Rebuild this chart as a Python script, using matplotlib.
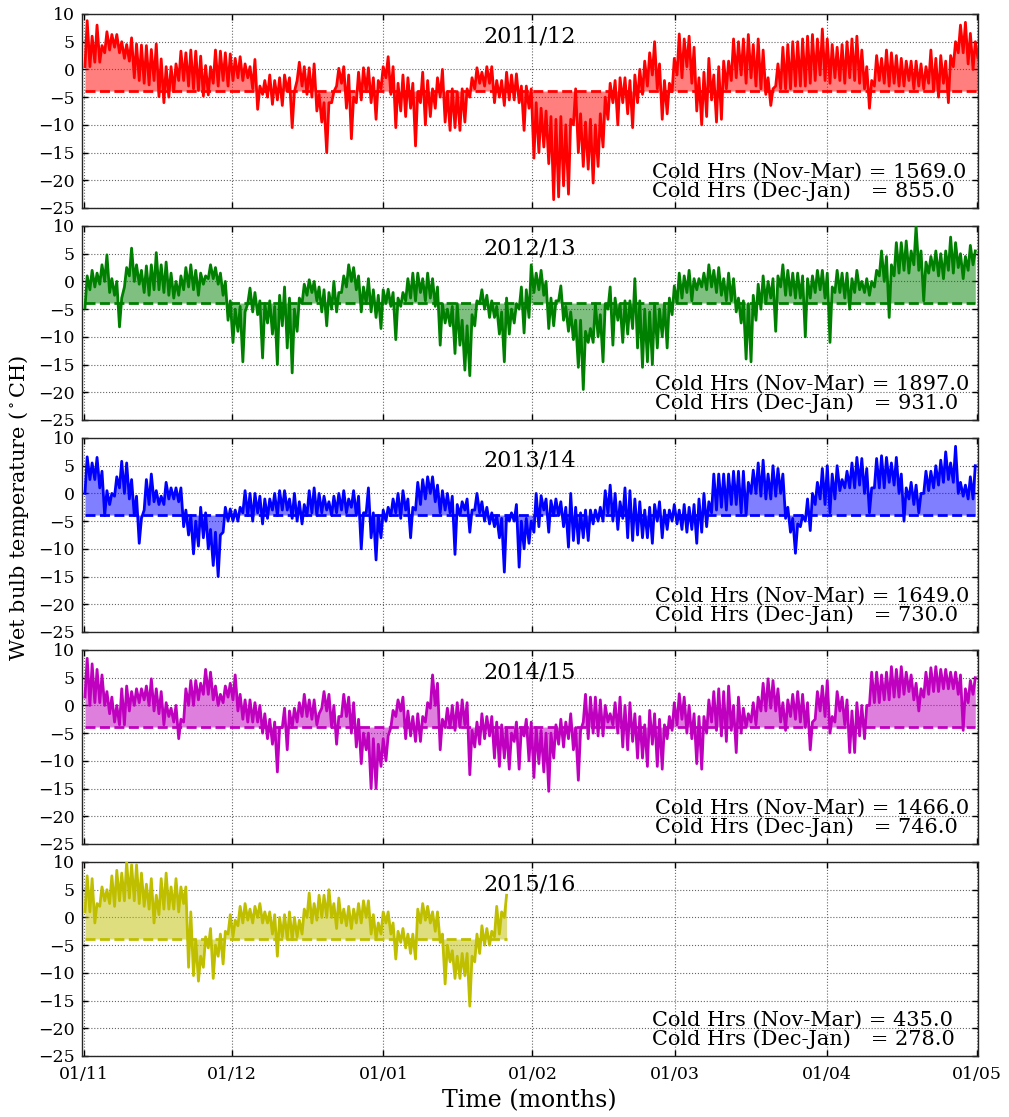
import matplotlib
matplotlib.use("Agg")
import matplotlib.pyplot as plt

plt.rcParams['font.family'] = ['DejaVu Serif']
plt.rcParams['mathtext.fontset'] = 'dejavuserif'

# ---------------- data (daily high / low wet bulb temperature) -------------
THRESH = -3.9
TICK_DAYS = [0, 30, 60.7, 90.9, 119.8, 150.5, 181]
TICK_LABELS = ['01/11', '01/12', '01/01', '01/02', '01/03', '01/04', '01/05']
TITLES = ['2011/12', '2012/13', '2013/14', '2014/15', '2015/16']
COLORS = ['r', 'g', 'b', 'm', 'y']
COLD_NOV_MAR = ['1569.0', '1897.0', '1649.0', '1466.0', '435.0']
COLD_DEC_JAN = ['855.0', '931.0', '730.0', '746.0', '278.0']

hi_2011 = [8.8, 6.0, 8.0, 4.3, 6.8, 6.3, 6.3, 5.0, 4.5, 5.7,
           4.6, 4.4, 4.3, 3.6, 4.6, 1.9, 0.5, 0.5, 1.0, 3.3,
           3.0, 3.5, 3.3, 2.4, 0.7, 0.5, 3.5, 3.3, 3.0, 2.8,
           2.0, 2.3, 1.0, 0.5, 1.8, -3.0, -2.0, -1.0, -2.0, -1.5,
           -1.0, -1.5, -4.0, 1.3, 0.5, 0.3, 1.0, -4.5, -6.0, -6.0,
           -4.0, 0.2, 0.5, -1.0, -5.0, -0.5, 0.3, 0.3, -1.5, -2.0,
           0.5, 2.3, 0.5, -2.5, -1.0, -1.5, -2.5, -4.0, -0.5, -2.0,
           -3.5, -1.5, 0.0, -4.0, -3.5, -4.0, -3.5, -3.5, -1.5, 0.3,
           -0.5, 0.5, 0.5, -2.0, -2.0, -0.5, -1.0, -0.8, -3.0, -3.0,
           -3.5, -6.0, -7.0, -7.5, -8.5, -9.0, -8.5, -10.0, -9.0, -3.5,
           -8.0, -9.5, -9.0, -10.0, -8.0, -5.0, -2.5, -2.0, -1.5, -1.5,
           -2.0, -1.0, 0.0, 1.5, 3.0, 5.0, 1.0, -2.0, -2.5, 2.0,
           6.4, 5.5, 6.0, 4.0, -1.5, -0.5, 2.0, -1.0, 0.5, 1.5,
           1.5, 5.5, 5.0, 5.5, 6.3, 4.5, 5.5, 3.5, -1.5, -3.5,
           1.0, 4.0, 4.5, 5.0, 5.0, 5.5, 6.0, 6.3, 5.5, 7.3,
           5.5, 4.5, 4.0, 4.5, 5.0, 5.5, 6.0, 3.5, 0.5, -2.0,
           2.5, 2.0, 3.5, 3.0, 2.5, 2.0, 1.5, 1.5, 1.5, 1.0,
           0.5, 3.5, 2.0, 2.5, 1.5, 2.5, 5.0, 8.0, 8.5, 6.5,
           5.0, 5.5]
lo_2011 = [0.5, 0.5, 1.3, 1.3, 3.0, 3.5, 4.0, 3.0, 2.0, 1.5,
           -1.5, -2.0, -2.5, -2.8, -2.0, -4.9, -6.0, -5.0, -4.0, -2.0,
           -2.0, -3.0, -3.5, -3.8, -4.8, -4.6, -2.5, -3.0, -2.0, -3.0,
           -2.0, -1.5, -2.0, -1.5, -3.5, -7.2, -4.5, -5.0, -6.3, -5.5,
           -6.5, -4.0, -10.5, -2.0, -3.0, -4.5, -5.0, -7.5, -9.5, -15.0,
           -6.0, -3.0, -2.5, -7.0, -12.5, -6.0, -5.5, -4.0, -6.0, -9.0,
           -3.5, -1.5, -4.5, -10.5, -7.5, -8.5, -7.0, -13.8, -6.0, -10.0,
           -8.5, -7.0, -5.0, -9.5, -11.0, -10.5, -11.0, -9.5, -5.0, -3.5,
           -2.5, -3.0, -2.5, -6.0, -5.0, -6.5, -5.5, -5.5, -6.0, -11.0,
           -7.0, -16.0, -15.0, -14.0, -17.0, -23.5, -23.0, -21.0, -22.5, -10.0,
           -15.0, -17.5, -18.0, -20.5, -17.5, -14.0, -9.0, -6.0, -10.0, -6.0,
           -8.0, -10.5, -6.0, -4.5, -3.0, -1.0, -3.5, -9.0, -8.0, -4.0,
           -1.0, -1.5, 0.5, -2.5, -7.5, -10.0, -8.5, -5.5, -9.5, -9.0,
           -3.5, -2.0, -1.5, -1.0, -2.5, -1.5, -3.0, -3.5, -4.5, -6.5,
           -3.0, -3.5, -3.5, -3.5, -3.0, -3.0, -3.0, -2.5, -2.0, -1.0,
           -2.0, -2.5, -1.5, -2.0, -2.5, -1.5, -2.0, -2.5, -3.5, -7.0,
           -3.0, -2.0, -2.5, -3.0, -2.5, -3.0, -3.0, -2.0, -3.5, -3.0,
           -3.5, -2.5, -4.0, -5.0, -2.5, -6.0, 0.5, 3.0, 3.0, 1.0,
           0.0, 2.0]

hi_2012 = [1.0, 2.0, 1.5, 3.0, 4.8, 0.5, 0.0, -3.0, 2.5, 6.0,
           3.0, 2.0, 2.8, 3.0, 5.2, 3.0, 3.5, 1.5, 0.0, 1.0,
           2.5, 3.0, 2.0, 1.5, 1.0, 3.0, 2.5, 1.5, 0.0, -3.5,
           -5.0, -4.5, -5.5, -1.2, -2.0, -3.5, -4.0, -3.5, -4.5, -2.5,
           -1.0, -3.0, -5.0, -3.0, -0.5, 0.3, 0.0, -1.0, -1.5, -2.0,
           0.0, -2.0, 1.0, 3.0, 2.5, 1.0, -1.0, 0.5, -1.5, -2.5,
           -1.5, -1.4, -2.0, -3.0, -2.0, 0.5, 1.5, 1.5, 0.5, 1.5,
           0.5, -1.0, -4.0, -5.0, -4.5, -4.0, -7.0, -8.0, -6.0, -3.5,
           -1.5, -2.5, -3.5, -4.5, -5.5, -3.0, -5.0, -4.0, -1.0, -1.5,
           3.0, 1.5, 2.0, 0.0, -3.0, -3.5, -0.8, -4.5, -5.5, -7.0,
           -7.0, -9.0, -8.5, -4.0, -6.0, -4.0, -1.0, -3.0, -4.0, -3.5,
           -3.5, 0.5, -3.5, -5.0, -5.5, -4.0, -5.0, -4.0, -3.0, -0.8,
           1.5, 1.0, 2.0, 0.5, 0.5, 1.5, 3.0, 2.0, 2.5, 0.5,
           1.5, 0.5, -3.0, -3.5, -4.0, -2.5, -0.5, 1.0, 0.0, 0.5,
           1.0, 3.0, 2.0, 1.5, 1.5, 1.0, 0.5, 1.0, 2.0, 2.0,
           1.5, -1.0, 2.0, 1.5, 1.5, 0.5, 2.0, 0.0, 0.5, 0.0,
           2.0, 5.5, 4.5, 3.0, 7.0, 7.0, 7.3, 5.5, 10.0, 5.5,
           3.5, 4.5, 5.5, 5.0, 5.5, 8.0, 7.0, 5.0, 4.5, 6.5,
           5.5]
lo_2012 = [-4.8, -1.5, -1.0, -0.5, 0.0, -2.0, -2.5, -8.2, -1.0, 1.0,
           0.0, -0.5, -2.0, -2.5, -1.5, -1.5, -2.0, -2.5, -3.0, -2.5,
           -1.5, -1.0, -1.5, -2.5, -0.5, 0.5, 0.5, -0.5, -2.5, -7.0,
           -11.0, -9.0, -14.5, -4.0, -5.5, -6.0, -13.8, -7.5, -9.5, -15.0,
           -8.0, -12.0, -16.5, -9.0, -4.0, -2.5, -2.0, -3.5, -5.5, -8.0,
           -5.0, -5.5, -2.0, -1.0, 0.0, -1.5, -5.5, -4.0, -5.5, -6.5,
           -8.5, -4.0, -4.5, -10.5, -4.5, -3.5, -3.0, -3.5, -2.0, -3.5,
           -3.0, -4.5, -11.5, -7.5, -8.0, -13.0, -11.5, -16.0, -17.0, -8.0,
           -4.0, -5.0, -6.5, -6.5, -9.5, -14.5, -9.5, -7.5, -5.0, -9.3,
           -6.5, -2.0, -1.5, -2.5, -8.5, -8.0, -3.5, -7.0, -9.0, -10.5,
           -15.5, -19.5, -11.0, -11.0, -10.0, -14.5, -5.0, -11.5, -7.0, -11.0,
           -9.5, -8.5, -12.0, -15.5, -14.5, -15.0, -12.0, -10.0, -12.0, -6.0,
           -4.0, -3.0, -2.0, -3.5, -1.5, -1.0, -1.5, -1.0, -2.0, -2.5,
           -3.5, -3.5, -5.5, -7.5, -14.0, -14.5, -7.0, -5.0, -4.0, -3.0,
           -9.0, -1.0, -2.5, -2.5, -3.0, -3.0, -10.0, -3.0, -2.0, -1.5,
           -3.0, -11.0, -2.0, -2.0, -3.0, -5.0, -2.0, -1.5, -2.0, -2.5,
           -1.0, 1.0, 0.0, -6.5, 1.0, 1.5, 2.0, 1.5, 3.0, 2.0,
           -3.5, 1.5, 2.0, 1.0, 0.5, 2.0, 1.5, 2.5, 0.5, 2.0,
           3.0]

hi_2013 = [6.6, 5.5, 6.5, 4.0, 0.5, 0.0, 3.0, 5.8, 5.5, 2.5,
           -0.5, -4.5, 2.5, 3.5, 0.5, -0.5, 2.0, 1.0, 1.0, 1.0,
           -3.0, -4.0, -5.0, -2.5, -3.5, -6.5, -7.0, -7.5, -2.5, -2.8,
           -3.0, -2.5, 0.5, 0.0, 0.0, -0.5, -1.0, -1.0, 0.0, 0.5,
           0.5, -1.0, 0.0, -1.5, -2.0, 0.5, 1.0, 0.0, -0.5, -1.5,
           -0.5, 0.0, 0.5, -1.0, 0.5, -0.5, -3.5, 1.0, -3.5, -4.0,
           -3.0, -2.5, -1.0, 0.0, 0.5, -1.0, -2.5, 2.0, 2.5, 3.0,
           3.0, 1.5, 0.5, 0.0, -0.5, -2.0, -1.5, -1.0, -3.0, 0.0,
           -1.5, -2.5, -3.5, -4.0, -4.5, -4.0, -3.5, -2.0, -5.0, -4.5,
           -5.0, 0.0, -0.4, -1.0, -1.3, -1.0, -1.5, -2.5, 0.0, -2.5,
           -3.5, -3.0, -3.0, -3.0, -2.5, 0.5, 1.5, 0.0, -1.5, 1.0,
           0.5, -1.0, -1.5, -3.0, -2.5, -2.0, -1.5, -3.0, -3.0, -2.0,
           -3.0, -2.0, -2.5, -2.0, -1.0, 0.0, -1.5, 3.5, 3.5, 3.5,
           3.5, 4.0, 4.0, 4.0, 2.0, 4.2, 5.5, 6.0, 3.5, 5.0,
           4.5, 3.5, -2.5, -4.5, -5.5, -4.0, -1.0, 0.0, 2.0, 4.5,
           5.0, 3.5, 5.0, 2.5, 4.0, 5.5, 6.5, 6.3, 4.5, 1.0,
           6.3, 6.8, 6.5, 5.5, 6.5, 3.5, 1.0, 2.0, 1.5, 0.0,
           4.0, 4.0, 5.0, 6.0, 7.5, 5.5, 8.5, 2.0, 1.5, 3.0,
           5.0]
lo_2013 = [0.0, 2.5, 2.5, 1.0, -4.0, -2.0, -0.5, 1.0, 0.0, -1.0,
           -4.0, -9.0, -3.0, -2.0, -1.5, -2.0, -2.0, -1.0, -1.0, -1.5,
           -6.0, -7.5, -10.9, -9.5, -8.0, -10.0, -13.0, -15.0, -7.0, -5.0,
           -5.0, -5.0, -3.5, -4.0, -5.0, -3.5, -5.5, -4.5, -3.0, -4.0,
           -3.0, -3.0, -4.5, -5.0, -5.5, -4.0, -3.5, -4.0, -3.5, -3.0,
           -4.0, -3.5, -3.0, -3.5, -2.5, -4.0, -10.0, -3.5, -8.0, -12.0,
           -8.0, -5.0, -4.0, -3.5, -4.5, -3.0, -8.0, -3.0, -2.0, -1.0,
           0.0, -1.5, -3.5, -3.0, -3.5, -11.0, -4.0, -3.0, -7.0, -3.0,
           -3.5, -5.0, -5.5, -6.0, -8.0, -14.2, -5.0, -5.0, -13.3, -10.0,
           -9.0, -7.0, -6.0, -3.0, -7.0, -4.0, -4.0, -6.0, -9.7, -8.5,
           -9.0, -8.0, -8.5, -5.5, -5.0, -5.0, -3.5, -5.0, -6.5, -4.5,
           -8.0, -8.5, -7.5, -8.0, -8.0, -9.0, -5.0, -8.0, -6.5, -5.0,
           -5.5, -6.5, -7.0, -6.5, -9.0, -7.0, -6.0, -3.5, -3.0, -2.5,
           -3.0, -2.0, -2.0, -3.5, -4.0, 0.0, 0.0, -0.5, -1.0, -1.0,
           -0.5, 0.0, -4.5, -7.0, -10.8, -6.0, -5.0, -6.7, -2.0, -1.0,
           -2.0, -3.5, -1.0, 0.5, 1.0, 1.0, 1.0, 1.5, 0.0, -3.5,
           1.0, 1.0, 1.0, 2.0, 1.5, 0.0, -5.0, -1.0, -2.0, -3.5,
           0.0, 0.5, 1.0, 1.5, 2.0, 2.5, 2.0, 0.0, -0.5, -1.0,
           -1.0]

hi_2014 = [8.5, 7.5, 6.5, 5.5, 2.5, 1.5, 0.0, 3.0, 3.5, 2.5,
           3.0, 3.0, 3.5, 4.8, 3.0, 2.5, 0.5, -0.5, 0.0, -2.5,
           3.0, 4.5, 4.5, 4.0, 6.5, 6.0, 3.5, 2.0, 3.5, 4.0,
           5.5, 2.0, 1.0, 1.0, 0.5, 0.0, -1.5, -2.5, -3.0, -4.0,
           -0.5, -1.0, -0.5, 0.5, 2.0, 1.0, 1.0, -1.5, 2.5, 2.0,
           0.0, -2.0, 2.0, 1.5, 0.5, -2.5, -5.0, -5.0, -6.0, -7.0,
           -6.0, -5.5, -0.9, 1.0, 1.5, -1.0, -2.0, -1.5, -2.0, 0.5,
           5.5, 4.0, -2.5, -0.5, 0.0, 0.5, 1.0, 0.5, -4.5, -3.0,
           -1.5, -2.0, -2.0, -3.0, -3.5, -4.0, -5.0, -3.0, -4.0, -2.5,
           -3.0, -4.0, -4.5, -5.0, -5.0, -3.5, -2.5, -3.0, -1.5, -4.0,
           -4.5, 2.0, 1.5, 1.5, 1.0, 0.0, -1.5, 0.5, 1.5, 0.0,
           0.5, -1.5, -2.0, -3.5, -0.9, -1.5, -2.5, -3.5, -2.0, 0.5,
           2.1, 1.5, 0.0, -1.5, -2.0, -2.0, 1.0, 2.5, 3.0, 2.5,
           3.5, 0.0, 1.5, -0.5, -1.5, 0.5, 1.5, 4.0, 4.8, 4.5,
           3.0, 0.5, 1.0, 2.0, 2.5, 2.0, 0.5, -3.0, 2.5, 3.5,
           4.5, -2.0, 2.5, 1.5, 1.0, -1.0, 0.5, 0.0, 0.0, 6.0,
           6.0, 5.5, 6.0, 7.0, 6.5, 7.0, 6.0, 5.5, 4.0, 3.0,
           6.0, 6.8, 7.0, 6.5, 6.5, 6.0, 6.0, 5.5, 3.0, 4.5,
           5.0]
lo_2014 = [1.5, 0.0, 0.5, 0.5, 0.0, -1.5, -3.0, -3.5, -3.5, -1.0,
           0.0, 0.5, 1.0, 0.0, -1.0, -1.5, -3.5, -2.0, -3.0, -6.0,
           -3.0, 0.0, 0.0, 1.0, 2.0, 2.0, 1.0, 0.0, 0.5, 1.5,
           1.0, -1.0, -2.5, -3.0, -3.0, -3.0, -5.0, -6.0, -7.0, -12.0,
           -4.0, -8.0, -4.0, -3.0, -2.0, -2.0, -2.5, -3.5, -0.5, -1.0,
           -4.0, -7.0, -2.0, -2.0, -5.0, -7.5, -10.5, -8.0, -15.0, -15.0,
           -11.0, -10.0, -4.0, -2.0, -1.0, -6.0, -5.5, -6.5, -6.5, -3.0,
           -0.5, 0.0, -8.0, -4.0, -4.0, -4.5, -4.0, -3.5, -12.5, -7.5,
           -7.0, -6.0, -5.5, -9.5, -11.0, -9.5, -11.5, -6.5, -11.5, -5.5,
           -10.0, -13.0, -10.5, -12.0, -15.5, -9.5, -7.0, -7.5, -6.0, -8.0,
           -13.5, -3.0, -6.0, -5.0, -5.5, -5.5, -3.0, -3.5, -5.0, -7.5,
           -8.0, -6.5, -9.5, -9.5, -11.0, -7.0, -11.0, -11.5, -6.0, -4.5,
           -3.5, -2.5, -5.0, -6.0, -10.5, -11.5, -5.0, -3.0, -4.5, -5.5,
           -6.5, -4.5, -8.5, -5.0, -4.0, -3.0, -3.5, -1.0, -1.0, -0.5,
           -1.0, -3.0, -4.5, -2.0, -2.5, -3.0, -4.0, -8.0, -2.5, -1.0,
           -2.0, -5.0, -3.0, -1.0, -3.5, -8.5, -8.5, -5.5, -6.0, 0.0,
           0.5, 0.5, 1.0, 1.0, 1.5, 1.5, 2.0, 2.5, 1.0, -1.0,
           1.5, 2.0, 2.5, 2.5, 3.0, 3.0, 3.0, 2.0, -4.5, 0.5,
           2.0]

hi_2015 = [7.5, 7.0, 2.5, 5.5, 5.0, 7.5, 8.5, 8.0, 10.0, 9.5,
           9.5, 8.0, 6.0, 7.0, 4.0, 7.0, 8.0, 5.5, 7.0, 5.5,
           5.5, 1.0, -4.0, -7.0, -3.5, -2.0, -5.0, -3.0, -2.5, 0.5,
           -0.5, 2.0, 2.5, 1.5, 2.0, 2.5, 1.0, 1.0, 0.5, 0.0,
           0.5, 1.0, 0.0, -0.5, 1.5, 4.4, 2.5, 4.0, 4.0, 5.0,
           2.5, 3.5, 1.5, 2.0, 1.5, 2.5, 3.0, 3.0, 0.5, -1.0,
           1.0, 1.0, -1.0, -2.5, -2.0, -3.0, -3.0, 1.5, 2.5, 2.0,
           1.0, 1.0, -3.0, -5.0, -6.0, -7.0, -6.5, -6.5, -7.0, -3.0,
           -1.5, -2.0, -2.5, 2.0, 1.0, 4.0]
lo_2015 = [1.0, 1.0, -1.0, 2.0, 3.0, 2.5, 2.0, 3.0, 3.0, 3.5,
           3.0, 2.5, 2.0, 1.5, -1.0, 0.5, 1.5, 1.5, 1.5, 1.0,
           2.5, -9.0, -10.5, -11.5, -9.0, -5.5, -11.0, -7.0, -8.4, -3.0,
           -3.5, -1.5, -1.0, -0.5, -1.0, 0.0, -1.0, -1.0, -3.0, -7.0,
           -3.5, -4.0, -4.0, -3.5, -3.0, 0.0, -1.0, -0.5, 0.0, 0.0,
           0.0, -2.0, -1.0, -1.5, -2.0, -1.0, -1.0, 0.0, -3.0, -4.0,
           -3.0, -1.0, -3.0, -7.5, -4.5, -5.5, -6.5, -7.5, -1.0, -0.5,
           -1.0, -2.5, -4.5, -12.0, -8.0, -11.0, -11.0, -10.5, -16.0, -8.0,
           -6.5, -5.0, -5.0, -3.5, -3.0, 0.0]

HIGHS = [hi_2011, hi_2012, hi_2013, hi_2014, hi_2015]
LOWS = [lo_2011, lo_2012, lo_2013, lo_2014, lo_2015]

# ---------------- figure ----------------
fig = plt.figure(figsize=(10.09, 11.17), dpi=100)
W = 1009.0
H = 1117.0
left = 82 / W
width = 896 / W
height = 194 / H
tops_px = [14, 226, 438, 650, 862]
text_x = [0.636, 0.6395, 0.6395, 0.6395, 0.636]

for i in range(5):
    bottom = 1 - (tops_px[i] + 194) / H
    ax = fig.add_axes([left, bottom, width, height])
    col = COLORS[i]
    t = []
    v = []
    for d, (h, l) in enumerate(zip(HIGHS[i], LOWS[i])):
        t += [d + 0.2, d + 0.65]
        v += [l, h]
    ax.fill_between(t, v, THRESH, color=col, alpha=0.5, linewidth=0)
    ax.plot(t, v, color=col, lw=2.0, zorder=3)
    ax.plot([t[0], t[-1]], [THRESH, THRESH], color=col, lw=2.0,
            linestyle=(0, (3.6, 1.6)), zorder=3)

    ax.set_xlim(-0.4, 181.2)
    ax.set_ylim(-25, 10)
    ax.set_yticks(range(-25, 11, 5))
    ax.set_xticks(TICK_DAYS)
    if i == 4:
        ax.set_xticklabels(TICK_LABELS)
    else:
        ax.set_xticklabels([])
    ax.grid(True, linestyle=':', color='0.4', lw=0.8)
    ax.set_axisbelow(True)
    ax.tick_params(direction='in', length=4, width=1, top=True, right=True,
                   labelsize=12.5)
    ax.tick_params(axis='x', pad=7)
    ax.tick_params(axis='y', pad=5)
    for s in ax.spines.values():
        s.set_linewidth(1.0)
        s.set_color('0.15')

    ax.text(0.5, 0.854, TITLES[i], transform=ax.transAxes, ha='center',
            va='baseline', fontsize=16)
    ax.text(text_x[i], 0.158, 'Cold Hrs (Nov-Mar) = ' + COLD_NOV_MAR[i],
            transform=ax.transAxes, ha='left', va='baseline', fontsize=15)
    ax.text(text_x[i], 0.055, 'Cold Hrs (Dec-Jan)   = ' + COLD_DEC_JAN[i],
            transform=ax.transAxes, ha='left', va='baseline', fontsize=15)

fig.text(0.019, 0.545, r'Wet bulb temperature ($^\circ$CH)', rotation=90,
         ha='center', va='center', fontsize=15)
fig.text(0.525, 0.015, 'Time (months)', ha='center', va='center', fontsize=17)

fig.savefig('out.png', dpi=100, facecolor='white')
